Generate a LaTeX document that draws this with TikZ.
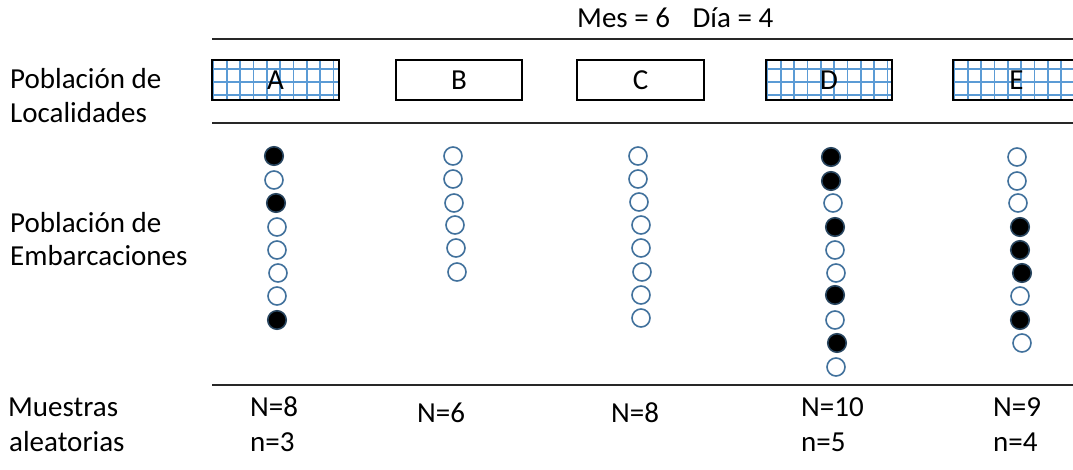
\documentclass[tikz,border=0pt]{standalone}
\usepackage{fontspec}
\setmainfont{Carlito}
\definecolor{cb}{RGB}{65,113,156}
\definecolor{gb}{RGB}{91,155,213}
\definecolor{ln}{RGB}{40,40,40}
\begin{document}
\begin{tikzpicture}[x=1pt,y=-1pt,
  lbl/.style={anchor=base west,inner sep=0,font=\fontsize{29}{35}\selectfont},
  locbox/.style={draw=black,line width=1.5,minimum width=127,minimum height=40,inner sep=0,font=\fontsize{29}{35}\selectfont},
  gl/.style={draw=gb,line width=1.5},
  vo/.style={circle,draw=cb,line width=1.6,fill=white,minimum size=18,inner sep=0},
  vf/.style={circle,draw=cb!60!black,line width=1.6,fill=black,minimum size=18.5,inner sep=0},
  sepline/.style={draw=ln,line width=1.5}]
\useasboundingbox (0,0) rectangle (1073,469);

% separator lines
\coordinate (l0a) at (212,39);  \coordinate (l0b) at (1073,39);
\coordinate (l1a) at (212,123); \coordinate (l1b) at (1073,123);
\coordinate (l2a) at (212,385); \coordinate (l2b) at (1073,385);
\draw[sepline] (l0a) -- (l0b);
\draw[sepline] (l1a) -- (l1b);
\draw[sepline] (l2a) -- (l2b);

% title
\node[lbl] (title) at (577,27) {Mes = 6\hspace{0.78em}Día = 4};

% left labels
\node[lbl] (pl1) at (10,88) {Población de};
\node[lbl] (pl2) at (10,122) {Localidades};
\node[lbl] (pe1) at (10,232) {Población de};
\node[lbl] (pe2) at (10,265) {Embarcaciones};
\node[lbl] (ma1) at (8,416) {Muestras};
\node[lbl] (ma2) at (9,451) {aleatorias};

% grids for hatched boxes
\foreach \xo in {212,766,953}{
  \foreach \k in {0,...,9} \draw[gl] ({\xo+1.5+13.33*\k},60) -- ++(0,40);
  \foreach \yy in {69,82,95} \draw[gl] (\xo,\yy) -- ++(127,0);
}

% locality boxes
\node[locbox] (A) at (275.5,80) {A};
\node[locbox,minimum width=126] (B) at (459,80) {B};
\node[locbox] (C) at (640.5,80) {C};
\node[locbox,minimum width=126] (D) at (829,80) {D};
\node[locbox] (E) at (1016.5,80) {E};

% vessels
\foreach [count=\i] \x/\y/\s in {274/156/vf,274/180/vo,276/203/vf,277/227/vo,277/250/vo,278/273/vo,277/296/vo,277/320/vf}
  \node[\s] (a\i) at (\x,\y) {};
\foreach [count=\i] \x/\y/\s in {453/156/vo,453/179/vo,454/203/vo,455/225/vo,456/248/vo,457/272/vo}
  \node[\s] (b\i) at (\x,\y) {};
\foreach [count=\i] \x/\y/\s in {638/156/vo,638/179/vo,639/202/vo,641/225/vo,641/248/vo,642/272/vo,641/295/vo,641/318/vo}
  \node[\s] (c\i) at (\x,\y) {};
\foreach [count=\i] \x/\y/\s in {831/157/vf,831/181/vf,833/203/vo,835/227/vf,835/250/vo,836/273/vo,835/295/vf,835/320/vo,837/343/vf,836/367/vo}
  \node[\s] (d\i) at (\x,\y) {};
\foreach [count=\i] \x/\y/\s in {1017/157/vo,1017/181/vo,1018/203/vo,1020/227/vf,1020/250/vf,1022/273/vf,1020/296/vo,1020/320/vf,1022/343/vo}
  \node[\s] (e\i) at (\x,\y) {};

% samples
\node[lbl] (NA) at (250,416) {N=8};
\node[lbl] (nA) at (250,451) {n=3};
\node[lbl] (NB) at (417,422) {N=6};
\node[lbl] (NC) at (611,422) {N=8};
\node[lbl] (ND) at (801,416) {N=10};
\node[lbl] (nD) at (801,451) {n=5};
\node[lbl] (NE) at (993,416) {N=9};
\node[lbl] (nE) at (993,451) {n=4};
\end{tikzpicture}
\end{document}
